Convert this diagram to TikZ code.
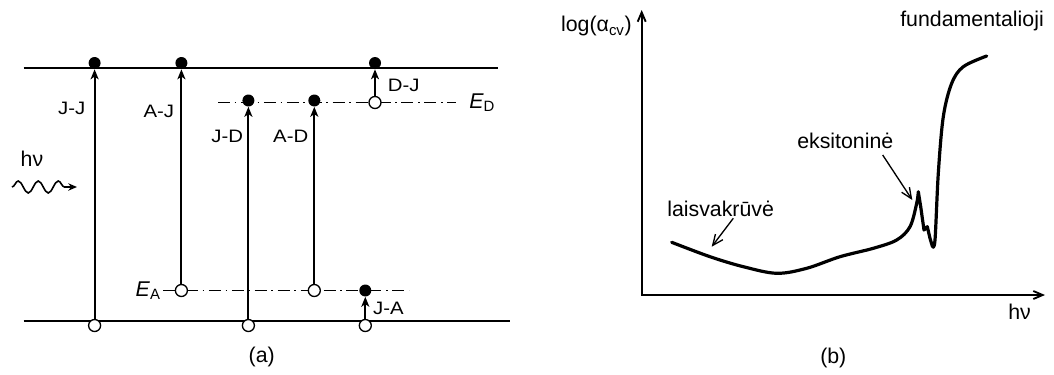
\documentclass[tikz,border=0pt]{standalone}
\usepackage{fontspec}
\setmainfont{Liberation Sans}
\newfontfamily\widefont[FakeStretch=1.13]{Liberation Sans}
\usetikzlibrary{decorations.pathmorphing}
\usetikzlibrary{arrows.meta}
% levels (y, px from top)
\newcommand{\cbandy}{68}
\newcommand{\vbandy}{321}
\newcommand{\dlevely}{102.5}
\newcommand{\alevely}{290.5}
\newcommand{\topdoty}{63}
\newcommand{\ddoty}{100.5}
\newcommand{\botdoty}{325.5}
% transitions (x)
\newcommand{\jjx}{94.6}
\newcommand{\ajx}{181.4}
\newcommand{\jdx}{248.4}
\newcommand{\adx}{314.3}
\newcommand{\djx}{375}
\newcommand{\jax}{365.3}
% right plot
\newcommand{\axx}{641.7}
\newcommand{\axy}{295}

\begin{document}
\begin{tikzpicture}[x=0.75pt,y=-0.75pt,font=\fontsize{16}{19}\selectfont]
\tikzstyle{bandline}=[line width=1.6pt]
\tikzstyle{implevel}=[line width=0.9pt,dash pattern=on 9pt off 3.5pt on 1.2pt off 3.5pt]
\tikzstyle{electron}=[circle,fill,inner sep=0pt,minimum size=9pt]
\tikzstyle{hole}=[circle,draw,fill=white,inner sep=0pt,minimum size=9pt,line width=1pt]
\tikzstyle{jump}=[line width=1.6pt,-{Stealth[length=7.5pt,width=6pt,inset=2pt]}]
\tikzstyle{lbl}=[font=\widefont\fontsize{13.5}{16}\selectfont,inner sep=0pt]
\tikzstyle{axis}=[line width=1.4pt,{Straight Barb[length=7pt,width=6pt]}-{Straight Barb[length=7pt,width=6pt]}]
\tikzstyle{pointer}=[line width=1pt,-{Straight Barb[length=8pt,width=7pt]}]
\tikzstyle{absorb}=[line width=2.4pt,line join=round,line cap=round]

\useasboundingbox (0,0) rectangle (1054,375);

%% (a) band diagram
\draw[bandline] (23.6,\cbandy) -- (498,\cbandy);
\draw[bandline] (23.6,\vbandy) -- (510,\vbandy);
\draw[implevel] (218,\dlevely) -- (456,\dlevely);
\draw[implevel] (163,\alevely) -- (409,\alevely);

\node[anchor=west,inner sep=0pt] (ED) at (469,\dlevely) {\textit{E}\textsubscript{D}};
\node[anchor=east,inner sep=0pt] (EA) at (161,\alevely) {\textit{E}\textsubscript{A}};

% electrons after the jump
\node[electron] (t1) at (\jjx,\topdoty) {};
\node[electron] (t2) at (\ajx,\topdoty) {};
\node[electron] (t3) at (\djx,\topdoty) {};
\node[electron] (d1) at (\jdx,\ddoty) {};
\node[electron] (d2) at (\adx,\ddoty) {};
\node[electron] (a3) at (\jax,\alevely) {};
% empty states left behind
\node[hole] (b1) at (\jjx,\botdoty) {};
\node[hole] (b2) at (\jdx,\botdoty) {};
\node[hole] (b3) at (\jax,\botdoty) {};
\node[hole] (a1) at (\ajx,\alevely) {};
\node[hole] (a2) at (\adx,\alevely) {};
\node[hole] (d3) at (\djx,\dlevely) {};

\draw[jump] (b1) -- (t1);
\draw[jump] (a1) -- (t2);
\draw[jump] (b2) -- (d1);
\draw[jump] (a2) -- (d2);
\draw[jump] (d3) -- (t3);
\draw[jump] (b3) -- (a3);

\node[lbl] (ljj) at (71.8,108.6) {J-J};
\node[lbl] (laj) at (158.8,111.6) {A-J};
\node[lbl] (ljd) at (227.2,136.5) {J-D};
\node[lbl] (lad) at (290.7,136.5) {A-D};
\node[lbl] (ldj) at (403.7,85.6) {D-J};
\node[lbl] (lja) at (388.5,308.6) {J-A};

% incoming photon
\node (hv) at (32,159) {hν};
\coordinate (w0) at (12,187);
\coordinate (w1) at (77,187);
\draw[line width=1.2pt,-{Stealth[length=6.5pt,width=5.5pt,inset=2pt]},decorate,decoration={snake,amplitude=4.5pt,segment length=15pt,post length=4pt}] (w0) -- (w1);

\node (capa) at (261.7,357) {(a)};

%% (b) absorption spectrum
\coordinate (O) at (\axx,\axy);
\coordinate (ytip) at (\axx,10);
\coordinate (xtip) at (1045,\axy);
\draw[axis] (ytip) -- (O) -- (xtip);

\node[anchor=base east,inner sep=0pt] (ylab) at (632,31.7) {log(α\textsubscript{cv})};
\node[anchor=base west,inner sep=0pt] (xlab) at (1008,319) {hν};

\draw[absorb] plot[smooth,tension=.55] coordinates {(671.7,242.3) (710,256.7) (743.3,266.7) (776.7,273.3) (806.7,268.3) (840,256.7) (873.3,248.3) (896.7,240) (910,226.7) (916.7,203.3) (918.3,191.7)}
  -- (920.7,206.7) -- (924,230) -- (927.3,226.7) -- (930,238.3)
  -- plot[smooth,tension=.55] coordinates {(932.3,246) (935,240) (938.3,173.3) (943.3,116.7) (951.7,83.3) (963.3,66.7) (986.7,56)};

\node[anchor=base west,inner sep=0pt] (fund) at (900,26.7) {fundamentalioji};
\node[anchor=base west,inner sep=0pt] (exc) at (797,148) {eksitoninė};
\node[anchor=base west,inner sep=0pt] (free) at (667,216) {laisvakrūvė};

\coordinate (excA) at (882.7,155);
\coordinate (excB) at (912.3,200);
\coordinate (freeA) at (733.3,218.3);
\coordinate (freeB) at (711.7,246.7);
\draw[pointer] (excA) -- (excB);
\draw[pointer] (freeA) -- (freeB);

\node (capb) at (833.3,358) {(b)};
\end{tikzpicture}
\end{document}
